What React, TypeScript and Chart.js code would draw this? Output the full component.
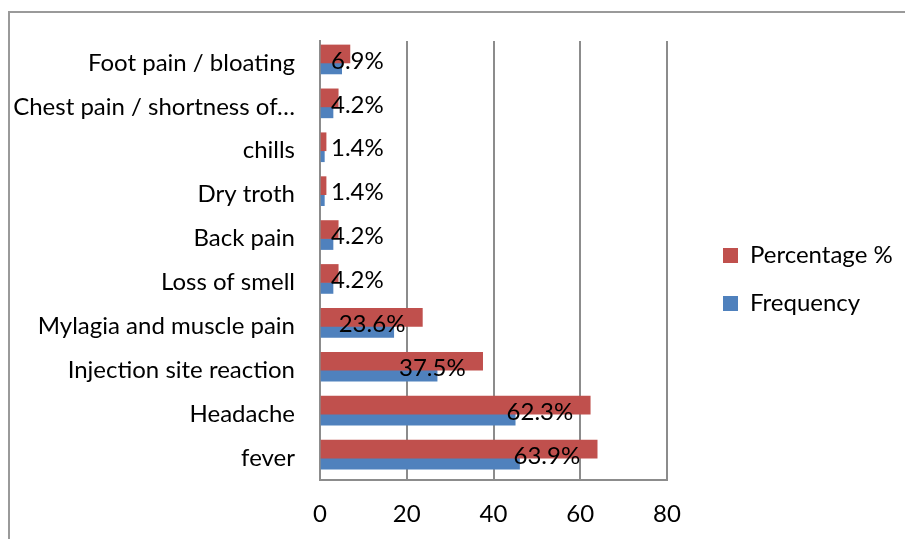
import React, { useEffect, useRef } from "react";
import { Chart, registerables } from "chart.js";

Chart.register(...registerables);

const categories = [
  "Foot pain / bloating",
  "Chest pain / shortness of…",
  "chills",
  "Dry troth",
  "Back pain",
  "Loss of smell",
  "Mylagia and muscle pain",
  "Injection site reaction",
  "Headache",
  "fever",
];
const percentage = [6.9, 4.2, 1.4, 1.4, 4.2, 4.2, 23.6, 37.5, 62.3, 63.9];
const frequency = [5, 3, 1, 1, 3, 3, 17, 27, 45, 46];
const xMin = 0;
const xMax = 80;
const xStep = 20;

const FONT = "Lato";
const AXIS_GRAY = "#8c8c8c";

const labelPlugin = {
  id: "pctLabels",
  afterDatasetsDraw(chart: any) {
    const meta = chart.getDatasetMeta(0);
    const ctx = chart.ctx;
    ctx.save();
    ctx.font = `24px ${FONT}`;
    ctx.fillStyle = "#000000";
    ctx.textBaseline = "middle";
    ctx.textAlign = "left";
    meta.data.forEach((el: any, i: number) => {
      const text = `${percentage[i].toFixed(1)}%`;
      const w = ctx.measureText(text).width;
      let x = el.x - 17 - w;
      const minX = chart.chartArea.left + 11;
      if (x < minX) x = minX;
      ctx.fillText(text, x, el.y + 7);
    });
    ctx.restore();
  },
};

export default function App() {
  const canvasRef = useRef<HTMLCanvasElement | null>(null);

  useEffect(() => {
    const canvas = canvasRef.current;
    if (!canvas) return;
    const font = { family: FONT, size: 24 };
    const chart = new Chart(canvas, {
      type: "bar",
      data: {
        labels: categories,
        datasets: [
          {
            label: "Percentage %",
            data: percentage,
            backgroundColor: "#C0504D",
            borderWidth: 0,
            barThickness: 18,
            xAxisID: "x",
            yAxisID: "y",
          },
          {
            label: "Frequency",
            data: frequency,
            backgroundColor: "#4F81BD",
            borderWidth: 0,
            barThickness: 11,
            xAxisID: "x",
            yAxisID: "y",
          },
        ],
      },
      options: {
        indexAxis: "y",
        responsive: false,
        maintainAspectRatio: false,
        animation: false,
        devicePixelRatio: 1,
        layout: { padding: { top: 41, bottom: 9, left: 0, right: 6 } },
        scales: {
          x: {
            type: "linear",
            position: "bottom",
            min: xMin,
            max: xMax,
            ticks: { stepSize: xStep, font, color: "#000000", padding: 20 },
            grid: { color: AXIS_GRAY, lineWidth: 2, drawTicks: false },
            border: { color: AXIS_GRAY, width: 2 },
            afterFit(s: any) {
              s.height = 50;
            },
          },
          y: {
            type: "category",
            position: "left",
            grid: { display: false, drawTicks: false },
            border: { color: AXIS_GRAY, width: 2 },
            ticks: { font, color: "#000000", padding: 25, autoSkip: false },
            afterFit(s: any) {
              s.width = 320;
            },
          },
          yPad: {
            axis: "y",
            type: "linear",
            position: "right",
            grid: { display: false, drawTicks: false },
            ticks: { display: false },
            border: { display: false },
            afterFit(s: any) {
              s.width = 32;
            },
          },
        },
        plugins: {
          legend: {
            position: "right",
            fullSize: false,
            maxWidth: 200,
            title: {
              display: true,
              text: " ",
              font: { size: 10, lineHeight: 1.2 },
              padding: { top: 26, bottom: 0 },
            },
            labels: {
              boxWidth: 15,
              boxHeight: 15,
              padding: 24,
              font,
              color: "#000000",
            },
          },
          tooltip: { enabled: false },
        },
      } as any,
      plugins: [labelPlugin],
    });
    return () => chart.destroy();
  }, []);

  return (
    <div>
      <div
        style={{
          position: "absolute",
          left: 8,
          top: 11,
          width: 895,
          height: 526,
          borderTop: "2px solid #9a9a9a",
          borderLeft: "2px solid #9a9a9a",
        }}
      />
      <canvas
        ref={canvasRef}
        width={905}
        height={539}
        style={{ position: "absolute", left: 0, top: 0, width: 905, height: 539, display: "block" }}
      />
    </div>
  );
}
